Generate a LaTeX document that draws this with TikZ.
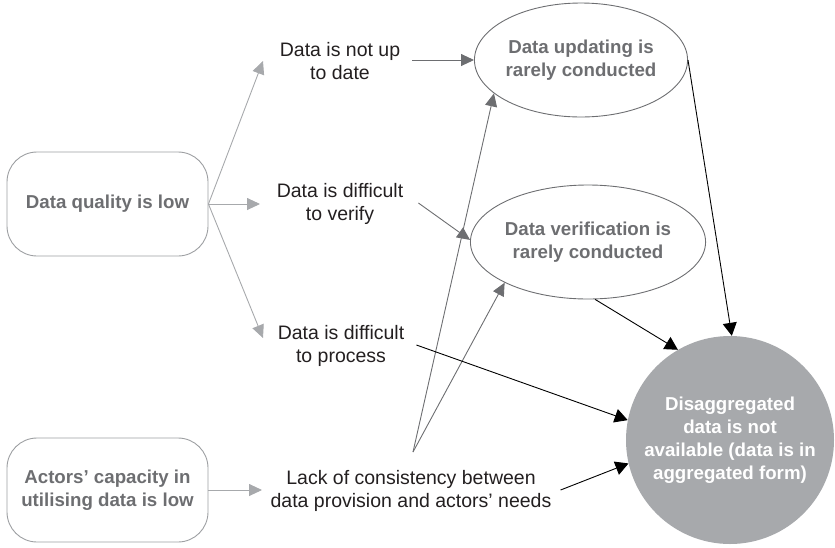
\documentclass[tikz,border=0pt]{standalone}
\usepackage{fontspec}
\setmainfont{Liberation Sans}
\usetikzlibrary{shapes.geometric,arrows.meta}
\definecolor{boxborder}{HTML}{9D9FA2}
\definecolor{boxtext}{HTML}{6D6E71}
\definecolor{lightline}{HTML}{A7A9AC}
\definecolor{darkline}{HTML}{6D6E71}
\definecolor{circfill}{HTML}{A7A9AC}
\definecolor{labeltext}{HTML}{231F20}
\tikzset{
  causebox/.style={draw=boxborder, line width=0.9pt, rounded corners=30pt, minimum width=201pt, minimum height=104pt, align=center, text=boxtext, font=\fontsize{18.7}{23}\selectfont\bfseries},
  plainlabel/.style={inner sep=0pt, align=center, text=labeltext, font=\fontsize{19.5}{23}\selectfont},
  effellipse/.style={ellipse, draw=darkline, line width=0.9pt, inner sep=0pt, align=center, text=boxtext, font=\fontsize{18.7}{23}\selectfont\bfseries},
  effcircle/.style={circle, fill=circfill, minimum size=208pt, inner sep=0pt, align=center, text=white, font=\fontsize{18.7}{23}\selectfont\bfseries},
  lightarrow/.style={draw=lightline, line width=0.9pt, -{Triangle[length=13pt,width=12pt]}, color=lightline},
  darkarrow/.style={draw=darkline, line width=0.9pt, -{Triangle[length=13pt,width=12pt]}, color=darkline},
  blackarrow/.style={draw=black, line width=0.9pt, -{Triangle[length=13pt,width=14pt]}},
}
\begin{document}
\begin{tikzpicture}[x=1pt,y=-1pt]
\useasboundingbox (0,0) rectangle (835,547);
% causes
\node[causebox] (q) at (107.5,204) {Data quality is low};
\node[causebox] (a) at (107.5,490) {Actors’ capacity in\\utilising data is low};
% labels
\node[plainlabel] (nu) at (340,61) {Data is not up\\to date};
\node[plainlabel] (dv) at (340,204) {Data is difficult\\to verify};
\node[plainlabel] (dp) at (341,346) {Data is difficult\\to process};
\node[plainlabel] (lc) at (411,491) {Lack of consistency between\\data provision and actors’ needs};
% effects
\node[effellipse, minimum width=212pt, minimum height=114pt] (e1) at (581,60) {Data updating is\\rarely conducted};
\node[effellipse, minimum width=210pt, minimum height=114pt] (e2) at (588,242) {Data verification is\\rarely conducted};
\node[effcircle] (c) at (730,440) {Disaggregated\\data is not\\available (data is in\\aggregated form)};
% free ends of the grey arrows
\coordinate (t1) at (263,61);
\coordinate (t2) at (260,204);
\coordinate (t3) at (263,338);
\coordinate (t4) at (262,490);
\coordinate (lo) at (413,452);
% connectors
\draw[lightarrow] (q.east) -- (t1);
\draw[lightarrow] (q.east) -- (t2);
\draw[lightarrow] (q.east) -- (t3);
\draw[lightarrow] (a.east) -- (t4);
\draw[darkarrow] ([xshift=12pt,yshift=1pt]nu.east) -- (e1.west);
\draw[darkarrow] ([xshift=15pt,yshift=1pt]dv.east) -- (e2.179);
\draw[darkarrow] (lo) -- (e1.201);
\draw[darkarrow] (lo) -- (e2.206);
\draw[blackarrow] (e1.east) -- (c.89);
\draw[blackarrow] (e2.277) -- (c.120);
\draw[blackarrow] ([xshift=12pt,yshift=1pt]dp.east) -- (c.169);
\draw[blackarrow] ([xshift=9pt,yshift=1pt]lc.east) -- (c.193);
\end{tikzpicture}
\end{document}
